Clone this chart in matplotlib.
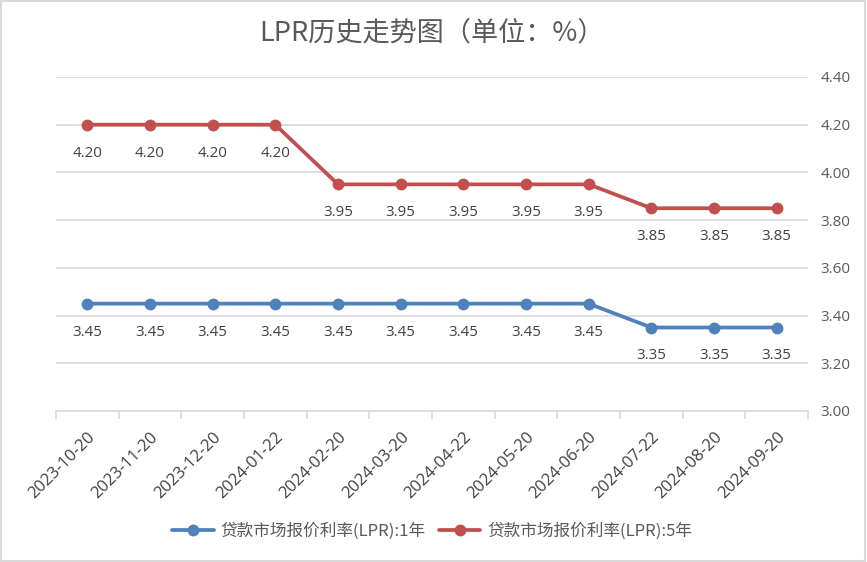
import matplotlib
matplotlib.use("Agg")
import matplotlib.pyplot as plt
import numpy as np
from matplotlib.patches import Rectangle

plt.rcParams['font.family'] = ['Noto Sans CJK SC', 'DejaVu Sans']

dates = ["2023-10-20", "2023-11-20", "2023-12-20", "2024-01-22", "2024-02-20", "2024-03-20",
         "2024-04-22", "2024-05-20", "2024-06-20", "2024-07-22", "2024-08-20", "2024-09-20"]
lpr_1y = [3.45, 3.45, 3.45, 3.45, 3.45, 3.45, 3.45, 3.45, 3.45, 3.35, 3.35, 3.35]
lpr_5y = [4.20, 4.20, 4.20, 4.20, 3.95, 3.95, 3.95, 3.95, 3.95, 3.85, 3.85, 3.85]
series_names = ["贷款市场报价利率(LPR):1年", "贷款市场报价利率(LPR):5年"]
yticks = [3.00, 3.20, 3.40, 3.60, 3.80, 4.00, 4.20, 4.40]
title = "LPR历史走势图（单位：%）"

blue = "#4f81bd"
red = "#c0504d"
text_gray = "#595959"
grid_gray = "#d9d9d9"

fig = plt.figure(figsize=(8.67, 5.62), dpi=100)
fig.patches.append(Rectangle((0.001, 0.001), 0.997, 0.997, transform=fig.transFigure,
                             fill=False, edgecolor="#d9d9d9", linewidth=1.5))
ax = fig.add_axes([56/867, 1-411/562, (808-56)/867, (411-77)/562])

x = np.arange(len(dates))
for vals, col, name in [(lpr_1y, blue, series_names[0]), (lpr_5y, red, series_names[1])]:
    ax.plot(x, vals, color=col, linewidth=2.7, marker='o', markersize=7.5,
            markerfacecolor=col, markeredgecolor=col, label=name, solid_capstyle='round', zorder=3)
    for xi, v in zip(x, vals):
        ax.annotate(f"{v:.2f}", (xi, v), xytext=(0, -20.5), textcoords='offset points',
                    ha='center', va='center', fontsize=10.8, color="#404040",
                    family=['Open Sans', 'DejaVu Sans'])

ax.set_xlim(-0.5, len(dates) - 0.5)
ax.set_ylim(3.0, 4.4)
ax.set_yticks(yticks)
ax.set_yticklabels([f"{v:.2f}" for v in yticks], fontsize=11, color=text_gray,
                   family=['Open Sans', 'DejaVu Sans'])
ax.yaxis.tick_right()
ax.tick_params(axis='y', length=0, pad=9)
ax.grid(axis='y', color=grid_gray, linewidth=1.2)
ax.set_axisbelow(True)

ax.set_xticks(x)
ax.set_xticklabels(dates, rotation=45, ha='right', rotation_mode='anchor', fontsize=12,
                   color="#404040", family=['Open Sans', 'DejaVu Sans'])
ax.tick_params(axis='x', which='major', length=0, pad=13)
ax.set_xticks(np.arange(-0.5, len(dates)), minor=True)
ax.tick_params(axis='x', which='minor', length=6, color=grid_gray, width=1.2)

for s in ['top', 'left', 'right']:
    ax.spines[s].set_visible(False)
ax.spines['bottom'].set_color(grid_gray)
ax.spines['bottom'].set_linewidth(1.2)

fig.text(432/867, 1-33/562, title, ha='center', va='center', fontsize=19.5, color=text_gray)

leg = fig.legend(loc='center', bbox_to_anchor=(432/867, 1-531/562), ncol=2, frameon=False,
                 fontsize=12, handlelength=2.5, columnspacing=0.8, handletextpad=0.4)
for t in leg.get_texts():
    t.set_color(text_gray)

fig.savefig("out.png", dpi=100)
